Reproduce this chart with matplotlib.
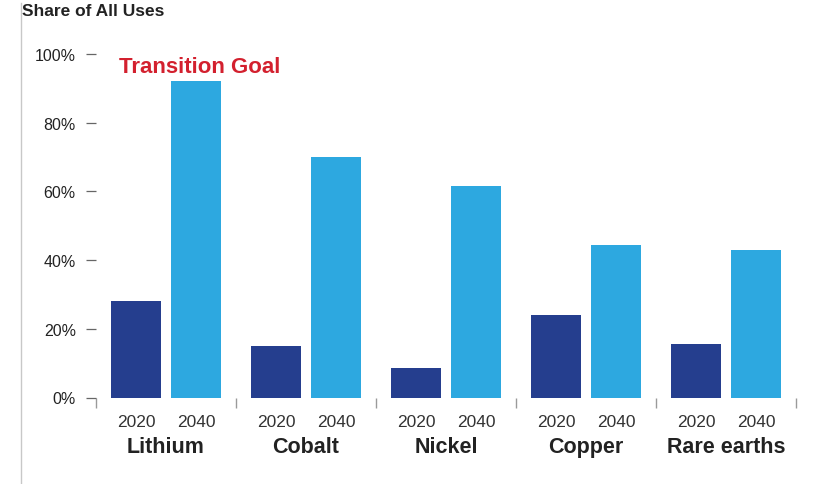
import matplotlib
matplotlib.use("Agg")
import matplotlib.pyplot as plt
from matplotlib.lines import Line2D
import numpy as np

plt.rcParams['font.family'] = ['Liberation Sans', 'DejaVu Sans']

minerals = ["Lithium", "Cobalt", "Nickel", "Copper", "Rare earths"]
years = ["2020", "2040"]
share_2020 = [28, 15, 8.5, 24, 15.5]
share_2040 = [92, 70, 61.5, 44.5, 43]
y_ticks = [0, 20, 40, 60, 80, 100]

dark_blue = "#253e8e"
light_blue = "#2da8e0"

fig = plt.figure(figsize=(8.3, 4.85), dpi=100)
ax = fig.add_axes([96 / 830, 1 - 398.5 / 485, 700 / 830, 343.5 / 485])

x = np.arange(len(minerals))
off = 30 / 140
w = 50 / 140
ax.bar(x - off, share_2020, width=w, color=dark_blue)
ax.bar(x + off, share_2040, width=w, color=light_blue)

ax.set_xlim(-0.5, len(minerals) - 0.5)
ax.set_ylim(0, 100)
for s in ax.spines.values():
    s.set_visible(False)

# y axis: short dashes to the right of the labels
ax.set_yticks(y_ticks)
ax.set_yticklabels([f"{v}%" for v in y_ticks])
ax.tick_params(axis="y", length=7.5, width=0.9, color="#666666", pad=7,
               labelsize=11.5, labelcolor="#222222")

# x axis: group separators as small downward ticks
ax.set_xticks(np.arange(-0.5, len(minerals), 1.0))
ax.set_xticklabels([])
ax.tick_params(axis="x", length=7, width=1.0, color="#9a9a9a", direction="out")
ax.get_xticklines()[0].set_color("#555555")

for i, name in enumerate(minerals):
    for dx, yr in zip((-off, off), years):
        ax.annotate(yr, xy=(i + dx, 0), xycoords=("data", "axes fraction"),
                    xytext=(0, -17), textcoords="offset points",
                    ha="center", va="center", fontsize=12.5, color="#333333")
    ax.annotate(name, xy=(i, 0), xycoords=("data", "axes fraction"),
                xytext=(0, -35), textcoords="offset points",
                ha="center", va="center", fontsize=15.5, fontweight="bold",
                color="#222222")

ax.text(-0.336, 96.5, "Transition Goal", color="#d3202e", fontsize=16,
        fontweight="bold", ha="left", va="center")

fig.text(22 / 830, 1 - 12 / 485, "Share of All Uses", fontsize=12.5,
         fontweight="bold", color="#222222", ha="left", va="center")

# thin rule down the left edge
fig.add_artist(Line2D([21 / 830, 21 / 830], [0, 1 - 4 / 485],
                      transform=fig.transFigure, color="#c8c8c8", lw=1.0))

fig.savefig("out.png", dpi=100, facecolor="white")
